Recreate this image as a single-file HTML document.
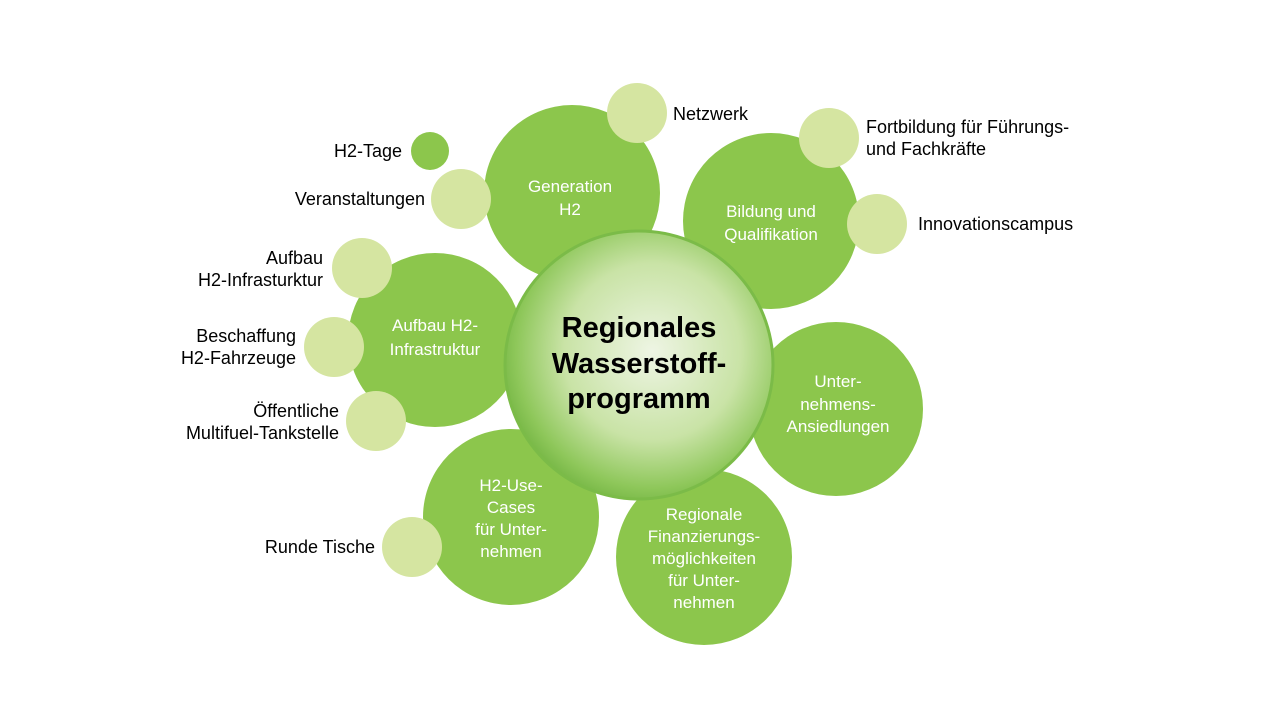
<!DOCTYPE html>
<html><head><meta charset="utf-8"><style>
body{margin:0;background:#fff}
svg{display:block}
text{font-family:"Liberation Sans",sans-serif}
.w{fill:#fff;font-size:17px;text-anchor:middle}
.b{fill:#000;font-size:18px}
</style></head><body>
<svg width="1280" height="720" viewBox="0 0 1280 720">
<defs>
<radialGradient id="g" cx="0.55" cy="0.45" r="0.6">
<stop offset="0" stop-color="#eef5e4"/>
<stop offset="0.55" stop-color="#c9e3a6"/>
<stop offset="0.85" stop-color="#8ec75a"/>
<stop offset="1" stop-color="#6fb23f"/>
</radialGradient>
</defs>
<g fill="#8cc64c">
<circle cx="572" cy="193" r="88"/>
<circle cx="771" cy="221" r="88"/>
<circle cx="435" cy="340" r="87"/>
<circle cx="836" cy="409" r="87"/>
<circle cx="511" cy="517" r="88"/>
<circle cx="704" cy="557" r="88"/>
<circle cx="430" cy="151" r="19"/>
</g>
<g fill="#d5e5a1">
<circle cx="637" cy="113" r="30"/>
<circle cx="461" cy="199" r="30"/>
<circle cx="829" cy="138" r="30"/>
<circle cx="877" cy="224" r="30"/>
<circle cx="362" cy="268" r="30"/>
<circle cx="334" cy="347" r="30"/>
<circle cx="376" cy="421" r="30"/>
<circle cx="412" cy="547" r="30"/>
</g>
<circle cx="639" cy="365" r="134" fill="url(#g)" stroke="#7bbb48" stroke-width="3"/>
<text x="639" y="337" text-anchor="middle" font-weight="bold" font-size="29">Regionales</text>
<text x="639" y="373" text-anchor="middle" font-weight="bold" font-size="29">Wasserstoff-</text>
<text x="639" y="408" text-anchor="middle" font-weight="bold" font-size="29">programm</text>
<text class="w" x="570" y="192">Generation</text><text class="w" x="570" y="215">H2</text>
<text class="w" x="771" y="217">Bildung und</text><text class="w" x="771" y="240">Qualifikation</text>
<text class="w" x="435" y="331">Aufbau H2-</text><text class="w" x="435" y="355">Infrastruktur</text>
<text class="w" x="838" y="387">Unter-</text><text class="w" x="838" y="410">nehmens-</text><text class="w" x="838" y="432">Ansiedlungen</text>
<text class="w" x="511" y="491">H2-Use-</text><text class="w" x="511" y="513">Cases</text><text class="w" x="511" y="535">für Unter-</text><text class="w" x="511" y="557">nehmen</text>
<text class="w" x="704" y="520">Regionale</text><text class="w" x="704" y="542">Finanzierungs-</text><text class="w" x="704" y="564">möglichkeiten</text><text class="w" x="704" y="586">für Unter-</text><text class="w" x="704" y="608">nehmen</text>
<text class="b" x="673" y="120">Netzwerk</text>
<text class="b" x="402" y="157" text-anchor="end">H2-Tage</text>
<text class="b" x="425" y="205" text-anchor="end">Veranstaltungen</text>
<text class="b" x="866" y="133">Fortbildung für Führungs-</text>
<text class="b" x="866" y="155">und Fachkräfte</text>
<text class="b" x="918" y="230">Innovationscampus</text>
<text class="b" x="323" y="264" text-anchor="end">Aufbau</text>
<text class="b" x="323" y="286" text-anchor="end">H2-Infrasturktur</text>
<text class="b" x="296" y="342" text-anchor="end">Beschaffung</text>
<text class="b" x="296" y="364" text-anchor="end">H2-Fahrzeuge</text>
<text class="b" x="339" y="417" text-anchor="end">Öffentliche</text>
<text class="b" x="339" y="439" text-anchor="end">Multifuel-Tankstelle</text>
<text class="b" x="375" y="553" text-anchor="end">Runde Tische</text>
</svg>
</body></html>
